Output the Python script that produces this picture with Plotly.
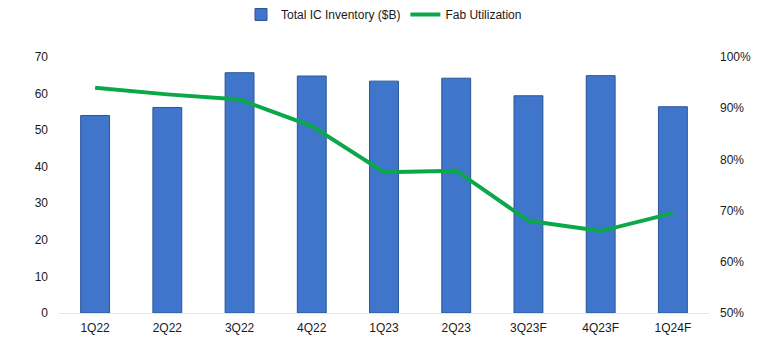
import plotly.graph_objects as go

quarters = ["1Q22", "2Q22", "3Q22", "4Q22", "1Q23", "2Q23", "3Q23F", "4Q23F", "1Q24F"]
inventory = [54.0, 56.2, 65.7, 64.8, 63.4, 64.2, 59.4, 64.9, 56.4]
utilization = [0.940, 0.927, 0.917, 0.865, 0.775, 0.778, 0.680, 0.660, 0.695]

font = dict(family="Liberation Sans, Arial, sans-serif", size=12, color="#1A1A1A")

fig = go.Figure()
fig.add_trace(go.Bar(
    x=quarters, y=inventory, name="Total IC Inventory ($B)",
    marker=dict(color="#3F76CB", line=dict(color="#2A5597", width=1)),
    width=0.4, yaxis="y",
))
fig.add_trace(go.Scatter(
    x=quarters, y=utilization, name="Fab Utilization", mode="lines",
    line=dict(color="#0BA84A", width=4), yaxis="y2",
))

fig.update_layout(
    width=772, height=350,
    margin=dict(l=59, r=63, t=57, b=37),
    paper_bgcolor="white", plot_bgcolor="white",
    font=font,
    bargap=0.6,
    showlegend=True,
    legend=dict(orientation="h", x=0.5, xanchor="center", y=1.0, yanchor="top",
                yref="container", font=dict(size=12, color="#1A1A1A"),
                itemwidth=30, traceorder="normal"),
    xaxis=dict(showgrid=False, showline=True, linecolor="#E6E6E6", linewidth=1,
               ticks="", tickfont=dict(size=12), ticklabelstandoff=4),
    yaxis=dict(range=[0, 70], dtick=10, showgrid=False, zeroline=False,
               showline=False, ticks="", ticklabelstandoff=10,
               tickfont=dict(size=12)),
    yaxis2=dict(range=[0.5, 1.0], dtick=0.1, tickformat=".0%", overlaying="y",
                side="right", showgrid=False, zeroline=False, showline=False,
                ticks="", ticklabelstandoff=10, tickfont=dict(size=12)),
)

fig.write_html("out.html")
